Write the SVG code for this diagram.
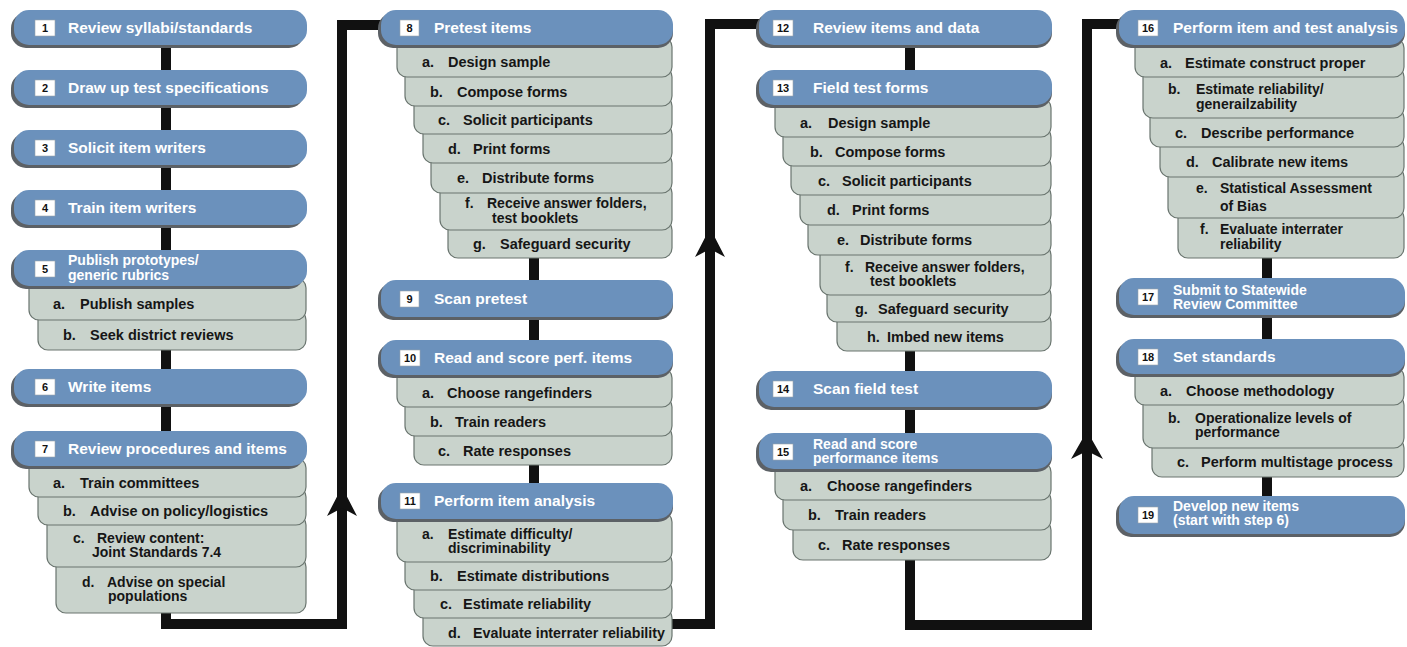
<svg xmlns="http://www.w3.org/2000/svg" width="1407" height="647" viewBox="0 0 1407 647">
<defs>
<style>
.sh{fill:#5c6166}
.bx{fill:#6b91bc}
.sb{fill:#c9d3cc;stroke:#6a756f;stroke-width:1.2}
.mt{font-family:"Liberation Sans",Arial,sans-serif;font-weight:bold;font-size:15.5px;fill:#ffffff}
.m2{font-family:"Liberation Sans",Arial,sans-serif;font-weight:bold;font-size:14px;fill:#ffffff}
.st{font-family:"Liberation Sans",Arial,sans-serif;font-weight:bold;font-size:14.5px;fill:#161616}
.s2{font-family:"Liberation Sans",Arial,sans-serif;font-weight:bold;font-size:14px;fill:#161616}
.bd{fill:#ffffff;stroke:#9aa3aa;stroke-width:0.6}
.bn{font-family:"Liberation Sans",Arial,sans-serif;font-weight:bold;font-size:11px;fill:#111111;text-anchor:middle}
.cn{fill:none;stroke:#111111;stroke-width:10;stroke-linejoin:miter}
.ah{fill:#111111}
</style>
</defs>
<rect width="1407" height="647" fill="#ffffff"/>

<g id="connectors">
<path class="cn" d="M166 40 V624 H342 V25 H390"/>
<path class="cn" d="M534 40 V640"/>
<path class="cn" d="M660 624 H710 V24 H765"/>
<path class="cn" d="M910 40 V625 H1087 V24 H1125"/>
<path class="cn" d="M1267 40 V510"/>
<polygon class="ah" points="342,487 357,516 342,508 327,516"/>
<polygon class="ah" points="710,228 725,257 710,249 695,257"/>
<polygon class="ah" points="1087,431 1103,459 1087,451 1071,459"/>
</g>

<!-- Column 1 -->
<g id="n1">
<rect class="sh" x="11" y="13" width="293" height="35" rx="15"/>
<rect class="bx" x="14" y="10" width="293" height="35" rx="15"/>
<rect class="bd" x="35" y="20" width="20" height="16"/><text class="bn" x="45" y="32">1</text>
<text class="mt" x="68" y="33">Review syllabi/standards</text>
</g>
<g id="n2">
<rect class="sh" x="11" y="73" width="293" height="35" rx="15"/>
<rect class="bx" x="14" y="70" width="293" height="35" rx="15"/>
<rect class="bd" x="35" y="80" width="20" height="16"/><text class="bn" x="45" y="92">2</text>
<text class="mt" x="68" y="93">Draw up test specifications</text>
</g>
<g id="n3">
<rect class="sh" x="11" y="133" width="293" height="35" rx="15"/>
<rect class="bx" x="14" y="130" width="293" height="35" rx="15"/>
<rect class="bd" x="35" y="140" width="20" height="16"/><text class="bn" x="45" y="152">3</text>
<text class="mt" x="68" y="153">Solicit item writers</text>
</g>
<g id="n4">
<rect class="sh" x="11" y="193" width="293" height="35" rx="15"/>
<rect class="bx" x="14" y="190" width="293" height="35" rx="15"/>
<rect class="bd" x="35" y="200" width="20" height="16"/><text class="bn" x="45" y="212">4</text>
<text class="mt" x="68" y="213">Train item writers</text>
</g>
<g id="n5">
<g id="n5b"><rect class="sb" x="38" y="310" width="268" height="40" rx="10"/>
<text class="st" y="340"><tspan x="63">b.</tspan><tspan x="90">Seek district reviews</tspan></text></g>
<g id="n5a"><rect class="sb" x="29" y="278" width="277" height="42" rx="10"/>
<text class="st" y="309"><tspan x="53">a.</tspan><tspan x="80">Publish samples</tspan></text></g>
<rect class="sh" x="11" y="253" width="293" height="36" rx="15"/>
<rect class="bx" x="14" y="250" width="293" height="36" rx="15"/>
<rect class="bd" x="35" y="261" width="20" height="16"/><text class="bn" x="45" y="273">5</text>
<text class="m2" x="68" y="265">Publish prototypes/</text>
<text class="m2" x="68" y="279.5">generic rubrics</text>
</g>
<g id="n6">
<rect class="sh" x="11" y="372" width="293" height="35" rx="15"/>
<rect class="bx" x="14" y="369" width="293" height="35" rx="15"/>
<rect class="bd" x="35" y="379" width="20" height="16"/><text class="bn" x="45" y="391">6</text>
<text class="mt" x="68" y="392">Write items</text>
</g>
<g id="n7">
<g id="n7d"><rect class="sb" x="56" y="557" width="250" height="56" rx="10"/>
<text class="s2" y="586.5"><tspan x="82">d.</tspan><tspan x="107">Advise on special</tspan></text>
<text class="s2" x="108" y="601">populations</text></g>
<g id="n7c"><rect class="sb" x="47" y="515" width="259" height="52" rx="10"/>
<text class="s2" y="542.5"><tspan x="73">c.</tspan><tspan x="97">Review content:</tspan></text>
<text class="s2" x="92" y="557">Joint Standards 7.4</text></g>
<g id="n7b"><rect class="sb" x="38" y="487" width="268" height="38" rx="10"/>
<text class="st" y="516"><tspan x="63">b.</tspan><tspan x="90">Advise on policy/logistics</tspan></text></g>
<g id="n7a"><rect class="sb" x="29" y="458" width="277" height="39" rx="10"/>
<text class="st" y="487.5"><tspan x="53">a.</tspan><tspan x="80">Train committees</tspan></text></g>
<rect class="sh" x="11" y="434" width="293" height="35" rx="15"/>
<rect class="bx" x="14" y="431" width="293" height="35" rx="15"/>
<rect class="bd" x="35" y="441" width="20" height="16"/><text class="bn" x="45" y="453">7</text>
<text class="mt" x="68" y="454">Review procedures and items</text>
</g>

<!-- Column 2 -->
<g id="n8">
<g id="n8g"><rect class="sb" x="448" y="220" width="224" height="38" rx="10"/>
<text class="st" y="249"><tspan x="473">g.</tspan><tspan x="500">Safeguard security</tspan></text></g>
<g id="n8f"><rect class="sb" x="440" y="183" width="232" height="47" rx="10"/>
<text class="s2" y="208"><tspan x="465">f.</tspan><tspan x="487">Receive answer folders,</tspan></text>
<text class="s2" x="492" y="222.5">test booklets</text></g>
<g id="n8e"><rect class="sb" x="431" y="153" width="241" height="40" rx="10"/>
<text class="st" y="183"><tspan x="457">e.</tspan><tspan x="482">Distribute forms</tspan></text></g>
<g id="n8d"><rect class="sb" x="423" y="124" width="249" height="39" rx="10"/>
<text class="st" y="153.5"><tspan x="448">d.</tspan><tspan x="473">Print forms</tspan></text></g>
<g id="n8c"><rect class="sb" x="414" y="96" width="258" height="38" rx="10"/>
<text class="st" y="125"><tspan x="438">c.</tspan><tspan x="463">Solicit participants</tspan></text></g>
<g id="n8b"><rect class="sb" x="405" y="67" width="267" height="39" rx="10"/>
<text class="st" y="96.5"><tspan x="430">b.</tspan><tspan x="457">Compose forms</tspan></text></g>
<g id="n8a"><rect class="sb" x="397" y="37" width="275" height="40" rx="10"/>
<text class="st" y="67"><tspan x="422">a.</tspan><tspan x="448">Design sample</tspan></text></g>
<rect class="sh" x="378" y="13" width="295" height="35" rx="15"/>
<rect class="bx" x="381" y="10" width="292" height="35" rx="15"/>
<rect class="bd" x="400" y="20" width="19" height="16"/><text class="bn" x="409.5" y="32">8</text>
<text class="mt" x="434" y="33">Pretest items</text>
</g>
<g id="n9">
<rect class="sh" x="378" y="283" width="295" height="37" rx="15"/>
<rect class="bx" x="381" y="280" width="292" height="37" rx="15"/>
<rect class="bd" x="400" y="291" width="19" height="16"/><text class="bn" x="409.5" y="303">9</text>
<text class="mt" x="434" y="304">Scan pretest</text>
</g>
<g id="n10">
<g id="n10c"><rect class="sb" x="414" y="426" width="258" height="39" rx="10"/>
<text class="st" y="455.5"><tspan x="438">c.</tspan><tspan x="463">Rate responses</tspan></text></g>
<g id="n10b"><rect class="sb" x="405" y="397" width="267" height="39" rx="10"/>
<text class="st" y="426.5"><tspan x="430">b.</tspan><tspan x="455">Train readers</tspan></text></g>
<g id="n10a"><rect class="sb" x="397" y="368" width="275" height="39" rx="10"/>
<text class="st" y="397.5"><tspan x="422">a.</tspan><tspan x="447">Choose rangefinders</tspan></text></g>
<rect class="sh" x="378" y="343" width="295" height="35" rx="15"/>
<rect class="bx" x="381" y="340" width="292" height="35" rx="15"/>
<rect class="bd" x="400" y="350" width="20" height="16"/><text class="bn" x="410" y="362">10</text>
<text class="mt" x="434" y="363">Read and score perf. items</text>
</g>
<g id="n11">
<g id="n11d"><rect class="sb" x="423" y="608" width="249" height="38" rx="10"/>
<text class="st" y="638"><tspan x="448">d.</tspan><tspan x="473" textLength="192" lengthAdjust="spacingAndGlyphs">Evaluate interrater reliability</tspan></text></g>
<g id="n11c"><rect class="sb" x="414" y="580" width="258" height="38" rx="10"/>
<text class="st" y="609"><tspan x="440">c.</tspan><tspan x="463">Estimate reliability</tspan></text></g>
<g id="n11b"><rect class="sb" x="405" y="552" width="267" height="38" rx="10"/>
<text class="st" y="581"><tspan x="430">b.</tspan><tspan x="457">Estimate distributions</tspan></text></g>
<g id="n11a"><rect class="sb" x="397" y="512" width="275" height="50" rx="10"/>
<text class="s2" y="538.5"><tspan x="422">a.</tspan><tspan x="448">Estimate difficulty/</tspan></text>
<text class="s2" x="448" y="553">discriminability</text></g>
<rect class="sh" x="378" y="486" width="295" height="36" rx="15"/>
<rect class="bx" x="381" y="483" width="292" height="36" rx="15"/>
<rect class="bd" x="400" y="493" width="20" height="16"/><text class="bn" x="410" y="505">11</text>
<text class="mt" x="434" y="506">Perform item analysis</text>
</g>

<!-- Column 3 -->
<g id="n12">
<rect class="sh" x="756" y="13" width="296" height="35" rx="15"/>
<rect class="bx" x="759" y="10" width="293" height="35" rx="15"/>
<rect class="bd" x="773" y="20" width="20" height="16"/><text class="bn" x="783" y="32">12</text>
<text class="mt" x="813" y="33">Review items and data</text>
</g>
<g id="n13">
<g id="n13h"><rect class="sb" x="837" y="312" width="214" height="39" rx="10"/>
<text class="st" y="341.5"><tspan x="867">h.</tspan><tspan x="887">Imbed new items</tspan></text></g>
<g id="n13g"><rect class="sb" x="827" y="285" width="224" height="37" rx="10"/>
<text class="st" y="313.5"><tspan x="855">g.</tspan><tspan x="878">Safeguard security</tspan></text></g>
<g id="n13f"><rect class="sb" x="820" y="245" width="231" height="50" rx="10"/>
<text class="s2" y="271.5"><tspan x="845">f.</tspan><tspan x="865">Receive answer folders,</tspan></text>
<text class="s2" x="870" y="286">test booklets</text></g>
<g id="n13e"><rect class="sb" x="808" y="215" width="243" height="40" rx="10"/>
<text class="st" y="245"><tspan x="837">e.</tspan><tspan x="860">Distribute forms</tspan></text></g>
<g id="n13d"><rect class="sb" x="800" y="185" width="251" height="40" rx="10"/>
<text class="st" y="215"><tspan x="827">d.</tspan><tspan x="852">Print forms</tspan></text></g>
<g id="n13c"><rect class="sb" x="791" y="156" width="260" height="39" rx="10"/>
<text class="st" y="185.5"><tspan x="818">c.</tspan><tspan x="842">Solicit participants</tspan></text></g>
<g id="n13b"><rect class="sb" x="783" y="127" width="268" height="39" rx="10"/>
<text class="st" y="156.5"><tspan x="810">b.</tspan><tspan x="835">Compose forms</tspan></text></g>
<g id="n13a"><rect class="sb" x="775" y="98" width="276" height="39" rx="10"/>
<text class="st" y="127.5"><tspan x="800">a.</tspan><tspan x="828">Design sample</tspan></text></g>
<rect class="sh" x="756" y="73" width="296" height="35" rx="15"/>
<rect class="bx" x="759" y="70" width="293" height="35" rx="15"/>
<rect class="bd" x="773" y="80" width="20" height="16"/><text class="bn" x="783" y="92">13</text>
<text class="mt" x="813" y="93">Field test forms</text>
</g>
<g id="n14">
<rect class="sh" x="756" y="374" width="296" height="36" rx="15"/>
<rect class="bx" x="759" y="371" width="293" height="36" rx="15"/>
<rect class="bd" x="773" y="381" width="20" height="16"/><text class="bn" x="783" y="393">14</text>
<text class="mt" x="813" y="394">Scan field test</text>
</g>
<g id="n15">
<g id="n15c"><rect class="sb" x="793" y="520" width="258" height="40" rx="10"/>
<text class="st" y="550"><tspan x="818">c.</tspan><tspan x="842">Rate responses</tspan></text></g>
<g id="n15b"><rect class="sb" x="783" y="490" width="268" height="40" rx="10"/>
<text class="st" y="520"><tspan x="808">b.</tspan><tspan x="835">Train readers</tspan></text></g>
<g id="n15a"><rect class="sb" x="775" y="462" width="276" height="38" rx="10"/>
<text class="st" y="491"><tspan x="800">a.</tspan><tspan x="827">Choose rangefinders</tspan></text></g>
<rect class="sh" x="756" y="436" width="296" height="36" rx="15"/>
<rect class="bx" x="759" y="433" width="293" height="36" rx="15"/>
<rect class="bd" x="773" y="444" width="20" height="16"/><text class="bn" x="783" y="456">15</text>
<text class="m2" x="813" y="448.5">Read and score</text>
<text class="m2" x="813" y="463">performance items</text>
</g>

<!-- Column 4 -->
<g id="n16">
<g id="n16f"><rect class="sb" x="1178" y="208" width="226" height="50" rx="10"/>
<text class="s2" y="234"><tspan x="1200">f.</tspan><tspan x="1220">Evaluate interrater</tspan></text>
<text class="s2" x="1220" y="248.5">reliability</text></g>
<g id="n16e"><rect class="sb" x="1168" y="167" width="236" height="51" rx="10"/>
<text class="s2" y="193"><tspan x="1196">e.</tspan><tspan x="1220">Statistical Assessment</tspan></text>
<text class="s2" x="1220" y="211">of Bias</text></g>
<g id="n16d"><rect class="sb" x="1160" y="137" width="244" height="40" rx="10"/>
<text class="st" y="167"><tspan x="1186">d.</tspan><tspan x="1212">Calibrate new items</tspan></text></g>
<g id="n16c"><rect class="sb" x="1150" y="108" width="254" height="39" rx="10"/>
<text class="st" y="137.5"><tspan x="1175">c.</tspan><tspan x="1201">Describe performance</tspan></text></g>
<g id="n16b"><rect class="sb" x="1143" y="67" width="261" height="51" rx="10"/>
<text class="s2" y="94"><tspan x="1168">b.</tspan><tspan x="1196">Estimate reliability/</tspan></text>
<text class="s2" x="1196" y="108.5">generailzability</text></g>
<g id="n16a"><rect class="sb" x="1135" y="38" width="269" height="39" rx="10"/>
<text class="st" y="67.5"><tspan x="1160">a.</tspan><tspan x="1185">Estimate construct proper</tspan></text></g>
<rect class="sh" x="1116" y="13" width="289" height="35" rx="15"/>
<rect class="bx" x="1119" y="10" width="286" height="35" rx="15"/>
<rect class="bd" x="1138" y="20" width="20" height="16"/><text class="bn" x="1148" y="32">16</text>
<text class="mt" x="1173" y="33">Perform item and test analysis</text>
</g>
<g id="n17">
<rect class="sh" x="1116" y="281" width="289" height="37" rx="15"/>
<rect class="bx" x="1119" y="278" width="286" height="37" rx="15"/>
<rect class="bd" x="1138" y="289" width="20" height="16"/><text class="bn" x="1148" y="301">17</text>
<text class="m2" x="1173" y="294.5">Submit to Statewide</text>
<text class="m2" x="1173" y="309">Review Committee</text>
</g>
<g id="n18">
<g id="n18c"><rect class="sb" x="1152" y="438" width="252" height="39" rx="10"/>
<text class="st" y="467"><tspan x="1177">c.</tspan><tspan x="1201">Perform multistage process</tspan></text></g>
<g id="n18b"><rect class="sb" x="1143" y="395" width="261" height="53" rx="10"/>
<text class="s2" y="422.5"><tspan x="1168">b.</tspan><tspan x="1195">Operationalize levels of</tspan></text>
<text class="s2" x="1195" y="437">performance</text></g>
<g id="n18a"><rect class="sb" x="1135" y="367" width="269" height="38" rx="10"/>
<text class="st" y="396"><tspan x="1160">a.</tspan><tspan x="1186">Choose methodology</tspan></text></g>
<rect class="sh" x="1116" y="342" width="289" height="35" rx="15"/>
<rect class="bx" x="1119" y="339" width="286" height="35" rx="15"/>
<rect class="bd" x="1138" y="349" width="20" height="16"/><text class="bn" x="1148" y="361">18</text>
<text class="mt" x="1173" y="362">Set standards</text>
</g>
<g id="n19">
<rect class="sh" x="1116" y="499" width="289" height="38" rx="15"/>
<rect class="bx" x="1119" y="496" width="286" height="38" rx="15"/>
<rect class="bd" x="1138" y="507" width="20" height="16"/><text class="bn" x="1148" y="519">19</text>
<text class="m2" x="1173" y="510.5">Develop new items</text>
<text class="m2" x="1173" y="525">(start with step 6)</text>
</g>
</svg>
